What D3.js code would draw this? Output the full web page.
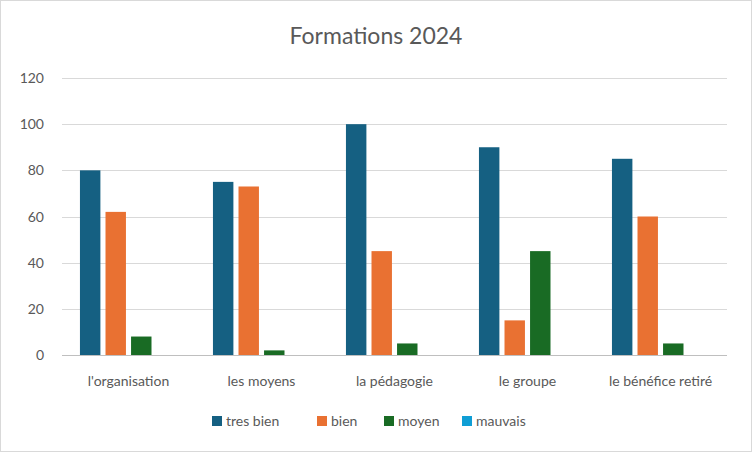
<!DOCTYPE html>
<html><head><meta charset="utf-8">
<script src="https://cdn.jsdelivr.net/npm/d3@7"></script>
<style>body{margin:0;background:#fff}svg{font-family:Lato,"Open Sans",sans-serif}</style>
</head><body><div id="chart"></div>
<script>
const categories = ["l'organisation", "les moyens", "la pédagogie", "le groupe", "le bénéfice retiré"];
const seriesNames = ["tres bien", "bien", "moyen", "mauvais"];
const tresBien = [80, 75, 100, 90, 85];
const bien = [62, 73, 45, 15, 60];
const moyen = [8, 2, 5, 45, 5];
const mauvais = [0, 0, 0, 0, 0];
const colors = ["#156082", "#e97132", "#196b24", "#0f9ed5"];
const yTicks = [0, 20, 40, 60, 80, 100, 120];

const series = [tresBien, bien, moyen, mauvais];
const W = 752, H = 452;
const svg = d3.select('#chart').append('svg').attr('width', W).attr('height', H);
svg.append('rect').attr('x', 0.5).attr('y', 0.5).attr('width', W - 1).attr('height', H - 1)
  .attr('fill', '#fff').attr('stroke', '#d9d9d9');

svg.append('text').attr('x', W / 2).attr('y', 44).attr('text-anchor', 'middle')
  .attr('font-size', 23).attr('fill', '#595959').text('Formations 2024');

const x0 = d3.scaleBand().domain(categories).range([62, 727]).paddingInner(0.27).paddingOuter(0.135);
const x1 = d3.scaleBand().domain(seriesNames).range([0, x0.bandwidth()]).paddingInner(0.2);
const y = d3.scaleLinear().domain([0, 120]).range([355, 78]);

const grid = svg.append('g');
grid.selectAll('line').data(yTicks).join('line')
  .attr('x1', 62).attr('x2', 727)
  .attr('y1', d => Math.round(y(d)) + 0.5).attr('y2', d => Math.round(y(d)) + 0.5)
  .attr('stroke', d => d === 0 ? '#bfbfbf' : '#d9d9d9');
grid.selectAll('text').data(yTicks).join('text')
  .attr('x', 44).attr('y', d => y(d) + 5).attr('text-anchor', 'end')
  .attr('font-size', 14).attr('fill', '#595959').text(d => d);

const groups = svg.append('g').selectAll('g').data(categories).join('g')
  .attr('transform', d => `translate(${x0(d)},0)`);
groups.selectAll('rect').data((c, i) => seriesNames.map((s, j) => ({ s, v: series[j][i], j })))
  .join('rect')
  .attr('x', d => x1(d.s)).attr('width', x1.bandwidth())
  .attr('y', d => y(d.v)).attr('height', d => y(0) - y(d.v))
  .attr('fill', d => colors[d.j]);

svg.append('g').selectAll('text').data(categories).join('text')
  .attr('x', d => x0(d) + x0.bandwidth() / 2).attr('y', 386).attr('text-anchor', 'middle')
  .attr('font-size', 14).attr('fill', '#595959').text(d => d);

const legendX = [212, 317, 384, 462];
const lg = svg.append('g').selectAll('g').data(seriesNames).join('g')
  .attr('transform', (d, i) => `translate(${legendX[i]},421)`);
lg.append('rect').attr('x', 0).attr('y', -5).attr('width', 10).attr('height', 10).attr('fill', (d, i) => colors[i]);
lg.append('text').attr('x', 14).attr('y', 5).attr('font-size', 14).attr('fill', '#595959').text(d => d);
</script></body></html>
